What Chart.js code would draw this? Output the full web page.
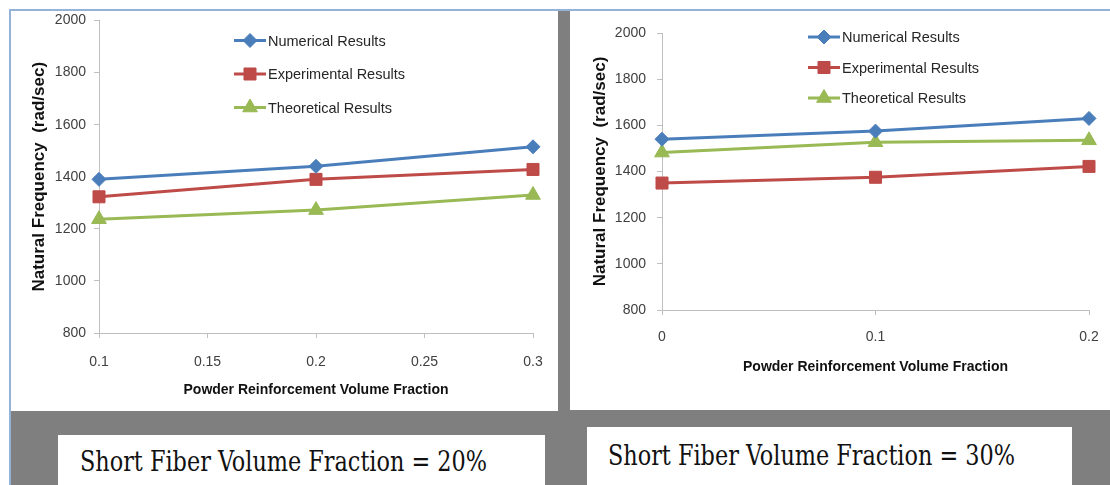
<!DOCTYPE html>
<html>
<head>
<meta charset="utf-8">
<script src="https://cdn.jsdelivr.net/npm/chart.js@4.4.0/dist/chart.umd.min.js"></script>
<style>
body { margin: 0; background: #fff; width: 1110px; height: 485px; overflow: hidden; position: relative; }
#frame { position: absolute; left: 9px; top: 9px; width: 1101px; height: 476px; background: #7f7f7f;
         border-left: 2px solid #95b3d7; border-top: 2px solid #95b3d7; box-sizing: border-box; }
.panel { position: absolute; background: #fff; }
.caption { position: absolute; background: #fff; font-family: "DejaVu Serif Condensed", "DejaVu Serif", serif;
           font-size: 28px; color: #111; }
.caption span { position: absolute; display: inline-block; transform-origin: 0 0; white-space: nowrap; }
</style>
</head>
<body>
<div id="frame"></div>
<div class="panel" style="left:11px;top:11px;width:547px;height:400px"><canvas id="left"></canvas></div>
<div class="panel" style="left:570px;top:11px;width:540px;height:399px"><canvas id="right"></canvas></div>
<div class="caption" style="left:58px;top:435px;width:487px;height:60px"><span id="cap0" style="left:22px;top:10px"></span></div>
<div class="caption" style="left:587px;top:427px;width:485px;height:70px"><span id="cap1" style="left:21px;top:12px"></span></div>
<script>
var seriesNames = ["Numerical Results", "Experimental Results", "Theoretical Results"];
var seriesColors = ["#4a7ebb", "#be4b48", "#98b954"];
var seriesMarkers = ["rectRot", "rect", "triangle"];
var markerSizes = [7, 8.5, 8.5];

// short fiber 20%
var xLeft = [0.1, 0.2, 0.3];
var numLeft = [1390, 1440, 1515];
var expLeft = [1323, 1390, 1428];
var theoLeft = [1237, 1272, 1330];

// short fiber 30%
var xRight = [0, 0.1, 0.2];
var numRight = [1540, 1575, 1630];
var expRight = [1350, 1375, 1422];
var theoRight = [1482, 1527, 1535];

var yTicks = [800, 1000, 1200, 1400, 1600, 1800, 2000];
var xTicksLeft = [0.1, 0.15, 0.2, 0.25, 0.3];
var xTicksRight = [0, 0.1, 0.2];
var captions = ["Short Fiber Volume Fraction = 20%", "Short Fiber Volume Fraction = 30%"];

var font = '"Liberation Sans", Arial, sans-serif';

// legend drawn inside the plot area like the excel one
var insideLegend = {
    id: 'insideLegend',
    afterDraw: function (chart, args, opts) {
        var ctx = chart.ctx, a = chart.chartArea;
        ctx.save();
        ctx.font = '14.5px ' + font;
        ctx.textBaseline = 'middle';
        chart.data.datasets.forEach(function (ds, i) {
            var x = a.left + opts.x, y = a.top + opts.y + i * opts.gap;
            ctx.strokeStyle = ds.borderColor;
            ctx.lineWidth = 3;
            ctx.beginPath();
            ctx.moveTo(x, y);
            ctx.lineTo(x + 32, y);
            ctx.stroke();
            ctx.fillStyle = ds.backgroundColor;
            ctx.lineWidth = 1;
            Chart.helpers.drawPoint(ctx, {pointStyle: ds.pointStyle, radius: ds.pointRadius, borderWidth: 1}, x + 16, y);
            ctx.fillStyle = '#262626';
            ctx.fillText(ds.label, x + 34, y + 1);
        });
        ctx.restore();
    }
};

function makeChart(id, xs, series, xTicks, lay) {
    var datasets = series.map(function (vals, i) {
        return {
            label: seriesNames[i],
            data: xs.map(function (x, j) { return {x: x, y: vals[j]}; }),
            borderColor: seriesColors[i],
            backgroundColor: seriesColors[i],
            borderWidth: 3,
            pointStyle: seriesMarkers[i],
            pointRadius: markerSizes[i],
            pointBorderWidth: 1,
            clip: false
        };
    });

    return new Chart(document.getElementById(id), {
        type: 'line',
        data: {datasets: datasets},
        plugins: [insideLegend],
        options: {
            responsive: true,
            maintainAspectRatio: false,
            animation: false,
            events: [],
            layout: {padding: {left: 0, top: lay.top, right: lay.right, bottom: 0}},
            plugins: {
                legend: {display: false},
                tooltip: {enabled: false},
                insideLegend: lay.legend
            },
            scales: {
                x: {
                    type: 'linear',
                    min: xTicks[0],
                    max: xTicks[xTicks.length - 1],
                    afterBuildTicks: function (s) { s.ticks = xTicks.map(function (v) { return {value: v}; }); },
                    afterFit: function (s) { s.height = lay.xHeight; s.paddingLeft = 0; s.paddingRight = 0; },
                    grid: {drawOnChartArea: false, tickLength: 5, color: '#bfbfbf'},
                    border: {color: '#bfbfbf'},
                    ticks: {
                        padding: lay.xPad, color: '#404040', font: {family: font, size: 14},
                        maxRotation: 0, callback: function (v) { return String(v); }
                    },
                    title: {
                        display: true, text: 'Powder Reinforcement Volume Fraction', color: '#111',
                        font: {family: font, size: 14, weight: 'bold'}, padding: {top: 0, bottom: lay.xTitlePad}
                    }
                },
                y: {
                    min: 800,
                    max: 2000,
                    afterBuildTicks: function (s) { s.ticks = yTicks.map(function (v) { return {value: v}; }); },
                    afterFit: function (s) { s.width = lay.yWidth; s.paddingTop = 0; s.paddingBottom = 0; },
                    grid: {drawOnChartArea: false, tickLength: 5, color: '#bfbfbf'},
                    border: {color: '#bfbfbf'},
                    ticks: {
                        padding: lay.yPad, color: '#404040', font: {family: font, size: 14},
                        callback: function (v) { return String(v); }
                    },
                    title: {
                        display: true, text: 'Natural Frequency  (rad/sec)', color: '#111',
                        font: {family: font, size: 17, weight: 'bold'}, padding: {top: lay.yTitlePad, bottom: 0}
                    }
                }
            }
        }
    });
}

makeChart('left', xLeft, [numLeft, expLeft, theoLeft], xTicksLeft, {
    top: 9, right: 25, yWidth: 88, xHeight: 78, xPad: 16, yPad: 8, xTitlePad: 12, yTitlePad: 18,
    legend: {x: 135, y: 20, gap: 33.5}
});
makeChart('right', xRight, [numRight, expRight, theoRight], xTicksRight, {
    top: 22, right: 21, yWidth: 92, xHeight: 100, xPad: 14, yPad: 11, xTitlePad: 34, yTitlePad: 20,
    legend: {x: 146, y: 4, gap: 30.5}
});

// captions squeezed to the width they have in the picture
captions.forEach(function (t, i) {
    var el = document.getElementById('cap' + i);
    el.textContent = t;
    var w = el.getBoundingClientRect().width;
    el.style.transform = 'scaleX(' + (407 / w) + ')';
});
</script>
</body>
</html>
